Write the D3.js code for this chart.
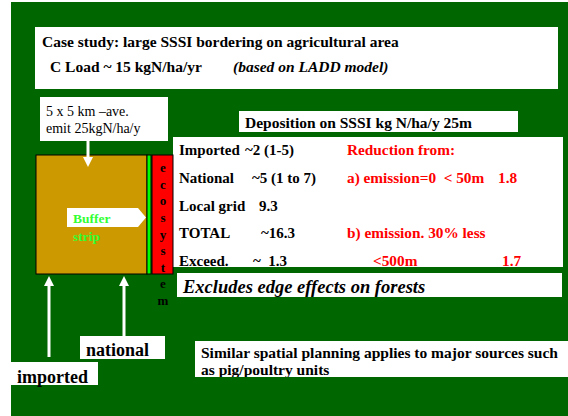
<!DOCTYPE html>
<html><head><meta charset="utf-8">
<script src="https://cdn.jsdelivr.net/npm/d3@7"></script>
<style>html,body{margin:0;padding:0;background:#fff;}svg{display:block;}</style>
</head><body>
<svg id="c" width="568" height="416"></svg>
<script>
// ---- content (data) ----
const titleLines = ["Case study: large SSSI bordering on agricultural area"];
const loadLabel = "C Load ~ 15 kgN/ha/yr";
const loadNote = "(based on LADD model)";
const gridNote = ["5 x 5 km \u2013ave.", "emit 25kgN/ha/y"];
const depositionTitle = "Deposition on SSSI kg N/ha/y 25m";
const sourceNames = ["Imported", "National", "Local grid", "TOTAL", "Exceed."];
const sourceValues = ["~2 (1-5)", "~5 (1 to 7)", "9.3", "~16.3", "~  1.3"];
const reductionText = ["Reduction from:", "a) emission=0  < 50m", "", "b) emission. 30% less", "<500m"];
const reductionValues = ["", "1.8", "", "", "1.7"];
const ecoLetters = ["e","c","o","s","y","s","t","e","m"];
const bufferLabel = ["Buffer", "strip"];
const arrowLabels = ["imported", "national"];
const edgeNote = "Excludes edge effects on forests";
const planningNote = ["Similar spatial planning applies to major sources such", "as pig/poultry units"];

// ---- drawing ----
const svg = d3.select("#c");
const G = "#006600";
const FAM = '"Liberation Serif"';

svg.append("rect").attr("x",11).attr("y",2).attr("width",557).attr("height",414).attr("fill",G);

function box(x,y,w,h,fill){ return svg.append("rect").attr("x",x).attr("y",y).attr("width",w).attr("height",h).attr("fill",fill||"#fff"); }
function txt(s,x,y,o){ o=o||{}; return (o.parent||svg).append("text").attr("x",x).attr("y",y).text(s)
  .style("font-family",FAM).style("white-space","pre")
  .style("font-size",(o.size||15.5)+"px").style("font-weight",o.weight||"bold")
  .style("font-style",o.style||"normal").attr("fill",o.fill||"#000").attr("text-anchor",o.anchor||"start"); }

// title box
box(35,27,523,62);
txt(titleLines[0],42,47,{size:15.5});
txt(loadLabel,50,72,{size:15.5});
txt(loadNote,233,72,{size:15.5,style:"italic"});

// grid note
box(40,97,128,44);
txt(gridNote[0],46,116,{size:14,weight:"normal"});
txt(gridNote[1],46,133,{size:14,weight:"normal"});

// deposition title
box(239,111,279,21);
txt(depositionTitle,245,128,{size:15.5});

// table box with clip
box(173,137,390,130);
svg.append("clipPath").attr("id","tclip").append("rect").attr("x",173).attr("y",137).attr("width",390).attr("height",130);
const tg = svg.append("g").attr("clip-path","url(#tclip)");
const rowY = d3.scalePoint().domain(d3.range(sourceNames.length)).range([155,266]);
const valX = [245,252,259,261,253];
sourceNames.forEach((s,i)=>{
  txt(s,179,rowY(i),{size:15,parent:tg});
  txt(sourceValues[i],valX[i],rowY(i),{size:15,parent:tg});
  const rx = i===4 ? 373 : 347;
  if(reductionText[i]) txt(reductionText[i],rx,rowY(i),{size:15.3,fill:"#ff0000",parent:tg});
  if(reductionValues[i]) txt(reductionValues[i], i===4?502:498, rowY(i),{size:15.3,fill:"#ff0000",parent:tg});
});

// excludes box
box(177,273,385,24);
txt(edgeNote,183,293,{size:18.5,style:"italic"});

// field square
svg.append("rect").attr("x",36).attr("y",155).attr("width",111).attr("height",119).attr("fill","#cc9900").attr("stroke","#000").attr("stroke-width",1);
svg.append("rect").attr("x",147).attr("y",155).attr("width",4).attr("height",119).attr("fill","#00ff00").attr("stroke","#000").attr("stroke-width",1);
svg.append("rect").attr("x",152).attr("y",155).attr("width",21).attr("height",119).attr("fill","#ff0000").attr("stroke","#000").attr("stroke-width",1);

const ecoY = d3.scalePoint().domain(d3.range(ecoLetters.length)).range([172,305]);
ecoLetters.forEach((l,i)=> txt(l,163,ecoY(i),{size:13,anchor:"middle"}));

// buffer label with pointer
svg.append("path").attr("d","M67,208 H138 L146,217.5 L138,227 H67 Z").attr("fill","#fff");
txt(bufferLabel[0],73,223,{size:13.5,fill:"#33ff33"});
txt(bufferLabel[1],73,241,{size:13.5,fill:"#33ff33"});

// arrows
function arrow(x,y1,y2){
  const dir = y2>y1?1:-1;
  svg.append("line").attr("x1",x).attr("x2",x).attr("y1",y1).attr("y2",y2-dir*9).attr("stroke","#fff").attr("stroke-width",3);
  svg.append("path").attr("d",`M${x-5},${y2-dir*10} L${x+5},${y2-dir*10} L${x},${y2} Z`).attr("fill","#fff");
}
arrow(88,141,167);
arrow(49,357,276);
arrow(124,336,276);

// bottom labels
box(80,336,85,23);
txt(arrowLabels[1],86,356,{size:18});
box(11,362,87,23);
txt(arrowLabels[0],17,383,{size:18});

// planning note
box(195,341,373,36);
svg.append("clipPath").attr("id","pclip").append("rect").attr("x",195).attr("y",341).attr("width",373).attr("height",36);
const pg = svg.append("g").attr("clip-path","url(#pclip)");
txt(planningNote[0],201,358,{size:15.5,parent:pg});
txt(planningNote[1],201,375,{size:15.5,parent:pg});
</script>
</body></html>
